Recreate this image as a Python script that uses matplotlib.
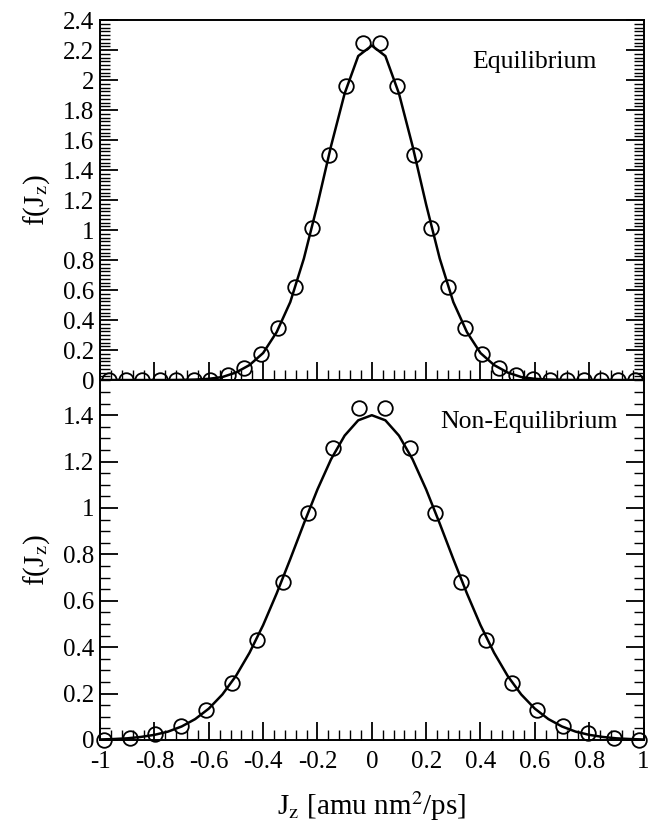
import matplotlib
matplotlib.use('Agg')
import numpy as np
import matplotlib.pyplot as plt
from matplotlib.ticker import MultipleLocator, FuncFormatter

plt.rcParams['font.family'] = ['Liberation Serif', 'DejaVu Serif']
plt.rcParams['mathtext.fontset'] = 'stix'
plt.rcParams['axes.unicode_minus'] = False

# 平衡态：直方图点
eq_x = [-0.969, -0.906, -0.844, -0.781, -0.719, -0.656, -0.594, -0.531,
        -0.469, -0.406, -0.344, -0.281, -0.219, -0.156, -0.094, -0.031,
        0.031, 0.094, 0.156, 0.219, 0.281, 0.344, 0.406, 0.469,
        0.531, 0.594, 0.656, 0.719, 0.781, 0.844, 0.906, 0.969]
eq_y = [0.0, 0.0, 0.0, 0.0, 0.0, 0.0, 0.003, 0.033,
        0.078, 0.173, 0.345, 0.618, 1.015, 1.50, 1.96, 2.245,
        2.245, 1.96, 1.50, 1.015, 0.62, 0.345, 0.173, 0.08,
        0.033, 0.005, 0.0, 0.0, 0.0, 0.0, 0.0, 0.0]

# 平衡态：拟合曲线
fit_x = [-1.0, -0.95, -0.9, -0.85, -0.8, -0.75, -0.7, -0.65, -0.6, -0.55,
         -0.5, -0.45, -0.4, -0.35, -0.3, -0.25, -0.2, -0.15, -0.1, -0.05,
         0.0, 0.05, 0.1, 0.15, 0.2, 0.25, 0.3, 0.35, 0.4, 0.45,
         0.5, 0.55, 0.6, 0.65, 0.7, 0.75, 0.8, 0.85, 0.9, 0.95, 1.0]
eq_fit = [0.0, 0.0, 0.0, 0.0, 0.0, 0.0, 0.001, 0.003, 0.008, 0.02,
          0.05, 0.10, 0.18, 0.32, 0.52, 0.81, 1.17, 1.56, 1.91, 2.16,
          2.23, 2.16, 1.91, 1.56, 1.17, 0.81, 0.52, 0.32, 0.18, 0.10,
          0.05, 0.02, 0.008, 0.003, 0.001, 0.0, 0.0, 0.0, 0.0, 0.0, 0.0]

# 非平衡态：直方图点
neq_x = [-0.985, -0.891, -0.797, -0.703, -0.609, -0.516, -0.422, -0.328,
         -0.234, -0.141, -0.047, 0.047, 0.141, 0.234, 0.328, 0.422,
         0.516, 0.609, 0.703, 0.797, 0.891, 0.985]
neq_y = [0.0, 0.007, 0.027, 0.06, 0.13, 0.247, 0.43, 0.68,
         0.977, 1.257, 1.43, 1.43, 1.257, 0.977, 0.68, 0.43,
         0.247, 0.13, 0.06, 0.029, 0.008, 0.0]

# 非平衡态：拟合曲线
neq_fit = [0.002, 0.004, 0.007, 0.013, 0.022, 0.036, 0.058, 0.09, 0.135, 0.196,
           0.276, 0.376, 0.495, 0.632, 0.78, 0.933, 1.08, 1.21, 1.312, 1.378,
           1.40, 1.378, 1.312, 1.21, 1.08, 0.933, 0.78, 0.632, 0.495, 0.376,
           0.276, 0.196, 0.135, 0.09, 0.058, 0.036, 0.022, 0.013, 0.007, 0.004, 0.002]

fmt = FuncFormatter(lambda v, p: '%g' % round(v, 3))


def style(ax, ymax, yminor, xlabels):
    ax.set_xlim(-1, 1)
    ax.set_ylim(0, ymax)
    ax.xaxis.set_major_locator(MultipleLocator(0.2))
    ax.xaxis.set_minor_locator(MultipleLocator(0.04))
    ax.yaxis.set_major_locator(MultipleLocator(0.2))
    ax.yaxis.set_minor_locator(MultipleLocator(yminor))
    ax.xaxis.set_major_formatter(fmt)
    ax.yaxis.set_major_formatter(fmt)
    ax.tick_params(which='both', direction='in', left=True, right=True,
                   bottom=True, top=False, labelsize=18, width=1.3)
    ax.tick_params(which='major', length=13, pad=4)
    ax.tick_params(axis='x', which='major', pad=8)
    ax.tick_params(which='minor', length=7, width=1.0)
    if not xlabels:
        ax.tick_params(axis='x', labelbottom=False)
    for s in ax.spines.values():
        s.set_linewidth(1.4)
    ax.set_ylabel(r'f(J$_\mathrm{z}$)', fontsize=21, labelpad=8)


fig = plt.figure(figsize=(6.5, 8.38), dpi=100)
ax1 = fig.add_axes([0.154, 0.5465, 0.836, 0.4296])
ax2 = fig.add_axes([0.154, 0.117, 0.836, 0.4296])

ax1.plot(fit_x, eq_fit, color='black', lw=1.8, zorder=3)
ax1.plot(eq_x, eq_y, 'o', mfc='none', mec='black', ms=10.5, mew=1.3, zorder=4, clip_on=False)
style(ax1, 2.4, 0.025, False)
ax1.text(0.80, 0.883, 'Equilibrium', transform=ax1.transAxes, ha='center', va='center', fontsize=18.5)

ax2.plot(fit_x, neq_fit, color='black', lw=1.8, zorder=3)
ax2.plot(neq_x, neq_y, 'o', mfc='none', mec='black', ms=10.5, mew=1.3, zorder=4, clip_on=False)
style(ax2, 1.552, 0.05, True)
ax2.text(0.79, 0.883, 'Non-Equilibrium', transform=ax2.transAxes, ha='center', va='center', fontsize=18.5)
ax2.set_xlabel(r'J$_\mathrm{z}$ [amu nm$^\mathrm{2}$/ps]', fontsize=21, labelpad=12)

fig.align_ylabels([ax1, ax2])
plt.savefig('out.png', dpi=100)
plt.close()
